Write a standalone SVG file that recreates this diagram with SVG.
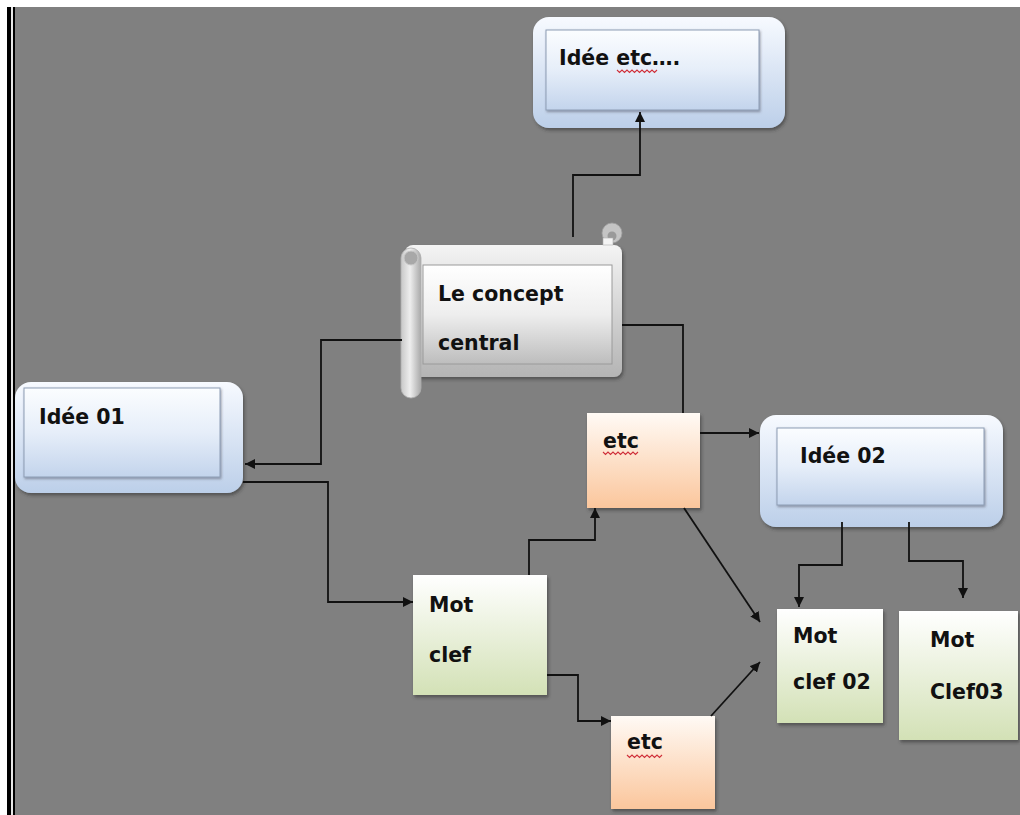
<svg xmlns="http://www.w3.org/2000/svg" width="1020" height="815" viewBox="0 0 1020 815">
<style>
.t{font-family:"DejaVu Sans","Liberation Sans",sans-serif;font-weight:bold;font-size:20.5px;fill:#111}
.c{fill:none;stroke:#111;stroke-width:1.8}
.sq{fill:none;stroke:#d0303a;stroke-width:1.1}
</style>
<defs>
<linearGradient id="gBlueO" x1="0" y1="0" x2="0" y2="1"><stop offset="0" stop-color="#f7faff"/><stop offset="1" stop-color="#bccfe9"/></linearGradient>
<linearGradient id="gBlueI" x1="0" y1="0" x2="0" y2="1"><stop offset="0" stop-color="#fbfdff"/><stop offset="0.5" stop-color="#e6eef9"/><stop offset="1" stop-color="#c3d4ec"/></linearGradient>
<linearGradient id="gOr" x1="0" y1="0" x2="0" y2="1"><stop offset="0" stop-color="#fffaf5"/><stop offset="1" stop-color="#fbc69c"/></linearGradient>
<linearGradient id="gGr" x1="0" y1="0" x2="0" y2="1"><stop offset="0" stop-color="#ffffff"/><stop offset="1" stop-color="#d3e1b6"/></linearGradient>
<linearGradient id="gScB" x1="0" y1="0" x2="0" y2="1"><stop offset="0" stop-color="#f4f4f4"/><stop offset="1" stop-color="#b4b4b4"/></linearGradient>
<linearGradient id="gScI" x1="0" y1="0" x2="0" y2="1"><stop offset="0" stop-color="#ffffff"/><stop offset="0.5" stop-color="#eeeeee"/><stop offset="1" stop-color="#bdbdbd"/></linearGradient>
<linearGradient id="gRoll" x1="0" y1="0" x2="1" y2="0"><stop offset="0" stop-color="#c8c8c8"/><stop offset="0.45" stop-color="#eeeeee"/><stop offset="1" stop-color="#a9a9a9"/></linearGradient>
<filter id="sh" x="-10%" y="-10%" width="125%" height="130%"><feDropShadow dx="1.5" dy="2.5" stdDeviation="1.5" flood-color="#333" flood-opacity="0.55"/></filter>
<filter id="sh2" x="-10%" y="-10%" width="125%" height="130%"><feDropShadow dx="1" dy="1.5" stdDeviation="1" flood-color="#445" flood-opacity="0.5"/></filter>
<marker id="ar" viewBox="0 0 10 10" refX="10" refY="5" markerWidth="10" markerHeight="10" markerUnits="userSpaceOnUse" orient="auto"><path d="M0,0 L10,5 L0,10 Z" fill="#111"/></marker>
</defs>

<rect x="0" y="0" width="1020" height="815" fill="#ffffff"/>
<rect x="15" y="7" width="1005" height="808" fill="#808080"/>
<rect x="7" y="7" width="4" height="808" fill="#000"/>
<rect x="11" y="7" width="2" height="808" fill="#e8e8e8"/>
<rect x="13" y="7" width="2" height="808" fill="#000"/>

<g id="node-idee-etc">
<rect x="533" y="17" width="252" height="111" rx="16" fill="url(#gBlueO)" filter="url(#sh)"/>
<rect x="546" y="30" width="213" height="80" fill="url(#gBlueI)" stroke="#8d9db5" stroke-width="1" filter="url(#sh2)"/>
<text class="t" x="559" y="65">Idée etc….</text>
<path class="sq" d="M617,70 l2.5,2.5 l2.5,-2.5 l2.5,2.5 l2.5,-2.5 l2.5,2.5 l2.5,-2.5 l2.5,2.5 l2.5,-2.5 l2.5,2.5 l2.5,-2.5 l2.5,2.5 l2.5,-2.5 l2.5,2.5 l2.5,-2.5 l2.5,2.5 l2.5,-2.5"/>
</g>

<g id="node-concept-central">
<rect x="405" y="245" width="217" height="132" rx="8" fill="url(#gScB)" filter="url(#sh)"/>
<rect x="423" y="265" width="189" height="99" fill="url(#gScI)" stroke="#9a9a9a" stroke-width="1"/>
<rect x="401" y="248" width="20" height="150" rx="10" fill="url(#gRoll)" stroke="#b0b0b0" stroke-width="0.8"/>
<circle cx="411" cy="258" r="7" fill="#a8a8a8" stroke="#c8c8c8" stroke-width="1"/>
<circle cx="612" cy="233" r="10" fill="#c4c4c4" stroke="#a0a0a0" stroke-width="0.8"/>
<circle cx="612" cy="236" r="4.5" fill="#9a9a9a"/>
<rect x="603" y="238" width="10" height="7" fill="#f4f4f4" stroke="#b0b0b0" stroke-width="0.6"/>
<text class="t" x="438" y="301">Le concept</text>
<text class="t" x="438" y="350">central</text>
</g>

<g id="node-idee-01">
<rect x="15" y="382" width="228" height="111" rx="16" fill="url(#gBlueO)" filter="url(#sh)"/>
<rect x="24" y="388" width="196" height="89" fill="url(#gBlueI)" stroke="#8d9db5" stroke-width="1" filter="url(#sh2)"/>
<text class="t" x="39" y="424">Idée 01</text>
</g>

<g id="node-idee-02">
<rect x="760" y="415" width="243" height="112" rx="16" fill="url(#gBlueO)" filter="url(#sh)"/>
<rect x="777" y="428" width="207" height="77" fill="url(#gBlueI)" stroke="#8d9db5" stroke-width="1" filter="url(#sh2)"/>
<text class="t" x="800" y="463">Idée 02</text>
</g>

<g id="node-etc-top">
<rect x="587" y="413" width="113" height="95" fill="url(#gOr)" filter="url(#sh)"/>
<text class="t" x="603" y="448">etc</text>
<path class="sq" d="M603,452 l2.5,2.5 l2.5,-2.5 l2.5,2.5 l2.5,-2.5 l2.5,2.5 l2.5,-2.5 l2.5,2.5 l2.5,-2.5 l2.5,2.5 l2.5,-2.5 l2.5,2.5 l2.5,-2.5 l2.5,2.5 l2.5,-2.5"/>
</g>

<g id="node-mot-clef">
<rect x="413" y="575" width="134" height="120" fill="url(#gGr)" filter="url(#sh)"/>
<text class="t" x="429" y="612">Mot</text>
<text class="t" x="429" y="662">clef</text>
</g>

<g id="node-etc-bottom">
<rect x="611" y="716" width="104" height="93" fill="url(#gOr)" filter="url(#sh)"/>
<text class="t" x="627" y="749">etc</text>
<path class="sq" d="M627,755 l2.5,2.5 l2.5,-2.5 l2.5,2.5 l2.5,-2.5 l2.5,2.5 l2.5,-2.5 l2.5,2.5 l2.5,-2.5 l2.5,2.5 l2.5,-2.5 l2.5,2.5 l2.5,-2.5 l2.5,2.5 l2.5,-2.5"/>
</g>

<g id="node-mot-clef-02">
<rect x="777" y="609" width="106" height="114" fill="url(#gGr)" filter="url(#sh)"/>
<text class="t" x="793" y="643">Mot</text>
<text class="t" x="793" y="689">clef 02</text>
</g>

<g id="node-mot-clef03">
<rect x="899" y="611" width="119" height="129" fill="url(#gGr)" filter="url(#sh)"/>
<text class="t" x="930" y="647">Mot</text>
<text class="t" x="930" y="699">Clef03</text>
</g>

<g id="connectors">
<path class="c" d="M573,237 V175 H640 V112" marker-end="url(#ar)"/>
<path class="c" d="M402,340 H321 V464 H245" marker-end="url(#ar)"/>
<path class="c" d="M243,482 H328 V602 H413" marker-end="url(#ar)"/>
<path class="c" d="M622,325 H683 V413"/>
<path class="c" d="M700,433 H759" marker-end="url(#ar)"/>
<path class="c" d="M529,575 V540 H595 V508" marker-end="url(#ar)"/>
<path class="c" d="M547,675 H578 V721 H611" marker-end="url(#ar)"/>
<path class="c" d="M684,508 L760,622" marker-end="url(#ar)"/>
<path class="c" d="M711,716 L760,662" marker-end="url(#ar)"/>
<path class="c" d="M842,522 V565 H799 V607" marker-end="url(#ar)"/>
<path class="c" d="M909,522 V561 H963 V598" marker-end="url(#ar)"/>
</g>
</svg>
